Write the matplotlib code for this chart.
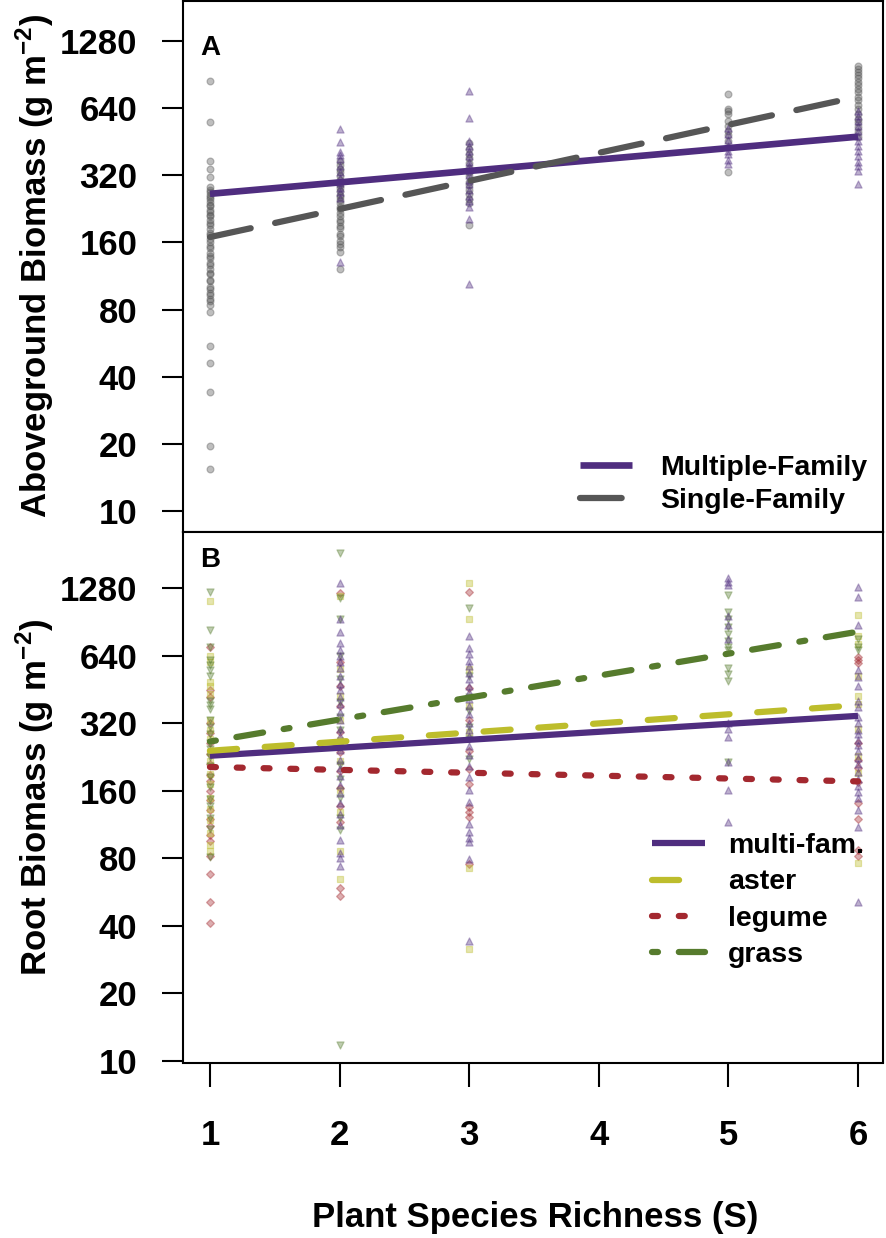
import matplotlib
matplotlib.use("Agg")
import matplotlib.pyplot as plt
from matplotlib.ticker import FixedLocator, NullLocator

plt.rcParams["font.family"] = ["Liberation Sans", "DejaVu Sans"]
plt.rcParams["font.weight"] = "bold"
plt.rcParams["mathtext.fontset"] = "custom"
plt.rcParams["mathtext.rm"] = "Liberation Sans:bold"
plt.rcParams["mathtext.bf"] = "Liberation Sans:bold"
plt.rcParams["lines.scale_dashes"] = False

# richness levels and y ticks
richness_ticks = [1, 2, 3, 4, 5, 6]
biomass_ticks = [10, 20, 40, 80, 160, 320, 640, 1280]

# ---- panel A: aboveground biomass (g m-2) ----
ag_single = {
    1: [848, 552, 372, 341, 315, 283, 276, 270, 261, 255, 251, 243, 236, 233, 224, 219,
        212, 209, 201, 195, 191, 183, 177, 173, 165, 161, 154, 151, 144, 139, 136, 129,
        127, 121, 117, 115, 109, 107, 101, 99, 95, 93, 89, 87, 83.5, 77.7, 55, 46, 34,
        19.6, 15.4],
    2: [370, 356, 341, 331, 317, 306, 295, 289, 279, 271, 261, 256, 247, 241, 231, 226,
        217, 211, 202, 197, 189, 185, 175, 171, 162, 158, 152, 145, 122],
    3: [445, 421, 398, 381, 361, 346, 329, 316, 299, 289, 274, 263, 249, 239, 192],
    5: [739, 633, 618, 600, 561, 532, 503, 482, 455, 330],
    6: [991, 958, 931, 899, 872, 838, 812, 779, 752, 718, 692, 659, 631, 601, 574, 552,
        524, 501, 473],
}
ag_multi = {
    2: [515, 449, 405, 395, 380, 352, 331, 312, 296, 281, 268, 252, 131],
    3: [765, 577, 457, 431, 409, 392, 368, 351, 336, 319, 306, 291, 276, 259, 246, 231,
        204, 104.5],
    5: [520, 489, 461, 431, 409, 398, 373, 360],
    6: [622, 591, 558, 531, 503, 481, 454, 432, 409, 391, 368, 351, 335, 292],
}
# fitted lines: value at S = 1 and S = 6
ag_fit_multi = [264, 476]
ag_fit_single = [169, 719]

# ---- panel B: root biomass (g m-2) ----
root_multi = {
    2: [1347, 934, 815, 727, 680, 641, 598, 562, 518, 481, 452, 419, 391, 358, 331, 302,
        281, 259, 242, 219, 201, 186, 169, 156, 141, 126, 112, 96, 84, 80, 74],
    3: [784, 693, 652, 609, 577, 538, 502, 468, 441, 409, 382, 351, 322, 298, 281, 254,
        231, 206, 184, 161, 143, 114, 105, 98, 94, 79.5, 34],
    5: [1420, 1370, 1325, 960, 880, 760, 320, 300, 278, 215, 161, 116],
    6: [1300, 1170, 877, 553, 512, 468, 401, 379, 342, 321, 298, 286, 269, 256, 241, 224,
        211, 194, 181, 167, 157, 148, 131, 110, 51],
}
root_aster = {
    1: [1123, 641, 598, 489, 471, 432, 331, 299, 272, 239, 216, 189, 171, 149, 133, 118,
        104, 92, 86],
    2: [1180, 561, 421, 329, 268, 216, 161, 129, 86, 64.6],
    3: [1347, 931, 560, 382, 291, 72, 31.5],
    6: [973, 782, 719, 521, 421, 389, 301, 229, 191, 76],
}
root_legume = {
    1: [703, 451, 419, 321, 289, 262, 234, 211, 188, 176, 159, 146, 131, 119, 111, 101,
        95, 82, 68, 51, 41],
    2: [1220, 602, 468, 381, 291, 238, 196, 164, 136, 116, 58.8, 54],
    3: [1237, 461, 329, 241, 199, 171, 135, 128, 122, 75],
    6: [631, 612, 593, 261, 219, 201, 174, 141, 119, 87, 82],
}
root_grass = {
    1: [1237, 834, 702, 611, 579, 551, 521, 401, 386, 369, 331, 309, 286, 261, 246, 227,
        206, 184, 166, 147, 136, 121, 108, 81],
    2: [1843, 1160, 934, 641, 502, 399, 341, 299, 251, 209, 181, 149, 121, 107, 11.7],
    3: [1042, 521, 419, 361, 309, 271, 221],
    5: [1190, 1005, 930, 861, 799, 741, 702, 680, 564, 531, 492, 215],
    6: [759, 701, 680],
}
root_fit_multi = [229, 345]
root_fit_aster = [241, 385]
root_fit_legume = [204, 176]
root_fit_grass = [265, 819]

fit_x = [1, 6]

# colours
c_multi = "#4f2d7f"
c_single = "#565656"
c_aster = "#bdbd2c"
c_legume = "#a3282f"
c_grass = "#567b2d"


def scatter_group(ax, groups, color, marker, size=24):
    for s, vals in groups.items():
        ax.scatter([s] * len(vals), vals, marker=marker, s=size,
                   facecolor=color, edgecolor=color, alpha=0.38,
                   linewidths=0.9, zorder=2)


def style_axis(ax, ylim):
    ax.set_yscale("log", base=2)
    ax.set_ylim(*ylim)
    ax.set_xlim(0.792, 6.193)
    ax.yaxis.set_major_locator(FixedLocator(biomass_ticks))
    ax.yaxis.set_minor_locator(NullLocator())
    ax.set_yticklabels([str(t) for t in biomass_ticks])
    ax.tick_params(axis="y", direction="out", length=15, width=1.5, pad=18,
                   labelsize=25)
    for sp in ax.spines.values():
        sp.set_linewidth(1.5)


fig = plt.figure(figsize=(8.86, 12.38), dpi=100)
ax1 = fig.add_axes([183 / 886, 1 - 532 / 1238, 700 / 886, 531 / 1238])
ax2 = fig.add_axes([183 / 886, 1 - 1062.5 / 1238, 700 / 886, 530.5 / 1238])

# panel A
scatter_group(ax1, ag_single, c_single, "o")
scatter_group(ax1, ag_multi, c_multi, "^", 26)
(l_multi,) = ax1.plot(fit_x, ag_fit_multi, color=c_multi, lw=4.8,
                      solid_capstyle="butt", zorder=3)
(l_single,) = ax1.plot(fit_x, ag_fit_single, color=c_single, lw=4.5,
                       dashes=(30, 18), dash_capstyle="round", zorder=3)
style_axis(ax1, (8.06, 1930))
ax1.tick_params(axis="x", bottom=False, labelbottom=False)

ax1.legend([l_multi, l_single], ["Multiple-Family", "Single-Family"],
           loc="upper left", bbox_to_anchor=(566 / 886, 1 - 441 / 1238),
           bbox_transform=fig.transFigure, frameon=False, borderpad=0,
           handlelength=1.83, handletextpad=0.98, labelspacing=0.24,
           prop=dict(size=20.5, weight="bold"))

# panel B
scatter_group(ax2, root_legume, c_legume, "D", 16)
scatter_group(ax2, root_aster, c_aster, "s", 18)
scatter_group(ax2, root_grass, c_grass, "v", 26)
scatter_group(ax2, root_multi, c_multi, "^", 26)
(r_multi,) = ax2.plot(fit_x, root_fit_multi, color=c_multi, lw=4.5,
                      solid_capstyle="butt", zorder=3)
(r_aster,) = ax2.plot(fit_x, root_fit_aster, color=c_aster, lw=4.5,
                      dashes=(19.5, 20), dash_capstyle="round", zorder=3)
(r_legume,) = ax2.plot(fit_x, root_fit_legume, color=c_legume, lw=4.5,
                       dashes=(4.3, 15), dash_capstyle="round", zorder=3)
(r_grass,) = ax2.plot(fit_x, root_fit_grass, color=c_grass, lw=4.5,
                      dashes=(4.3, 15, 19.5, 15), dash_capstyle="round", zorder=3)
style_axis(ax2, (9.8, 2281))
ax2.set_xticks(richness_ticks)
ax2.set_xticklabels([str(t) for t in richness_ticks])
ax2.tick_params(axis="x", direction="out", length=17, width=1.5, pad=24,
                labelsize=25)

ax2.legend([r_multi, r_aster, r_legume, r_grass],
           ["multi-fam.", "aster", "legume", "grass"],
           loc="upper left", bbox_to_anchor=(638 / 886, 1 - 819 / 1238),
           bbox_transform=fig.transFigure, frameon=False, borderpad=0,
           handlelength=1.86, handletextpad=0.8, labelspacing=0.36,
           prop=dict(size=20.5, weight="bold"))

# panel letters and axis titles
fig.text(200 / 886, 1 - 48 / 1238, "A", ha="left", va="center", size=20,
         weight="bold")
fig.text(200 / 886, 1 - 560 / 1238, "B", ha="left", va="center", size=20,
         weight="bold")
fig.text(35 / 886, 1 - 266 / 1238, "Aboveground Biomass (g m$^{-2}$)",
         rotation=90, ha="center", va="center", size=25, weight="bold")
fig.text(35 / 886, 1 - 797 / 1238, "Root Biomass (g m$^{-2}$)",
         rotation=90, ha="center", va="center", size=25, weight="bold")
fig.text(535 / 886, 1 - 1218 / 1238, "Plant Species Richness (S)",
         ha="center", va="center", size=25, weight="bold")

fig.savefig("out.png", dpi=100)
